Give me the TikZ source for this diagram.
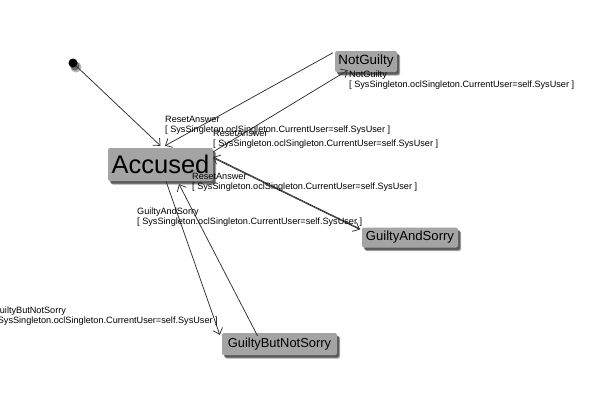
\documentclass[tikz,border=0pt]{standalone}
\usepackage{fontspec}
\setmainfont{Liberation Sans}
\usetikzlibrary{arrows.meta,shadows}
\definecolor{boxfill}{HTML}{A4A4A4}
\definecolor{linecol}{HTML}{303030}
\tikzset{
  statebox/.style={fill=boxfill, rounded corners=2pt, inner sep=0pt, text=black,
    drop shadow={shadow xshift=3pt, shadow yshift=-3.5pt, opacity=0.35, fill=black},
    drop shadow={shadow xshift=2pt, shadow yshift=-2.5pt, opacity=0.45, fill=black}},
  trans/.style={draw=linecol, line width=0.75pt, -{Straight Barb[length=5.5pt,width=10pt,line width=0.75pt]}},
  tlabel/.style={font=\fontsize{9.15}{10}\selectfont, align=left, inner sep=0pt, text=black},
}
\begin{document}
\begin{tikzpicture}[x=1pt,y=-1pt]
\useasboundingbox (0,0) rectangle (600,416);
% initial state
\fill[black, opacity=0.3] (76,67) circle (5.5pt);
\fill[black, opacity=0.4] (75,66) circle (4.5pt);
\node[circle, fill=black, inner sep=0pt, minimum size=9pt] (init) at (73,63) {};
% states
\node[statebox, minimum width=105pt, minimum height=33pt, font=\fontsize{25.5}{25}\selectfont] (acc) at (160.5,164.5) {Accused};
\node[statebox, minimum width=62pt, minimum height=21pt, font=\fontsize{13.4}{14}\selectfont] (ng) at (366,61.5) {NotGuilty};
\node[statebox, minimum width=96pt, minimum height=20pt, font=\fontsize{13.1}{14}\selectfont] (gas) at (410,237.5) {GuiltyAndSorry};
\node[statebox, minimum width=115pt, minimum height=22pt, font=\fontsize{12.9}{14}\selectfont] (gbns) at (279.5,344) {GuiltyButNotSorry};
% transitions
\draw[trans] (init) -- ([yshift=2pt]acc.north);
\draw[trans] ([xshift=-2pt,yshift=-2pt]ng.north west) -- ([xshift=4.5pt,yshift=2pt]acc.north);
\draw[trans] ([yshift=-4pt]acc.north east) -- ([xshift=13pt,yshift=2pt]ng.south west);
\draw[trans] ([yshift=6.5pt]acc.east) -- ([xshift=-2pt,yshift=8pt]gas.west);
\draw[trans] ([xshift=-1.5pt,yshift=8.5pt]gas.west) -- ([yshift=7.5pt]acc.east);
\draw[trans] ([xshift=5.5pt]acc.south) -- ([xshift=-2pt,yshift=-2pt]gbns.north west);
\draw[trans] ([xshift=-22pt,yshift=-3pt]gbns.north) -- ([xshift=18.5pt,yshift=-3pt]acc.south);
% labels
\node[tlabel, anchor=north west] (lA) at (165,116) {ResetAnswer\\{[} SysSingleton.oclSingleton.CurrentUser=self.SysUser ]};
\node[tlabel, anchor=north west] (lB) at (213,130) {ResetAnswer\\{[} SysSingleton.oclSingleton.CurrentUser=self.SysUser ]};
\node[tlabel, anchor=north west] (lNG) at (349,71) {NotGuilty\\{[} SysSingleton.oclSingleton.CurrentUser=self.SysUser ]};
\node[tlabel, anchor=north west] (lC) at (192,173) {ResetAnswer\\{[} SysSingleton.oclSingleton.CurrentUser=self.SysUser ]};
\node[tlabel, anchor=north west] (lGAS) at (137,208) {GuiltyAndSorry\\{[} SysSingleton.oclSingleton.CurrentUser=self.SysUser ]};
\node[tlabel, anchor=north east] (lGBNS) at (218,307) {GuiltyButNotSorry\\{[} SysSingleton.oclSingleton.CurrentUser=self.SysUser ]};
\end{tikzpicture}
\end{document}
